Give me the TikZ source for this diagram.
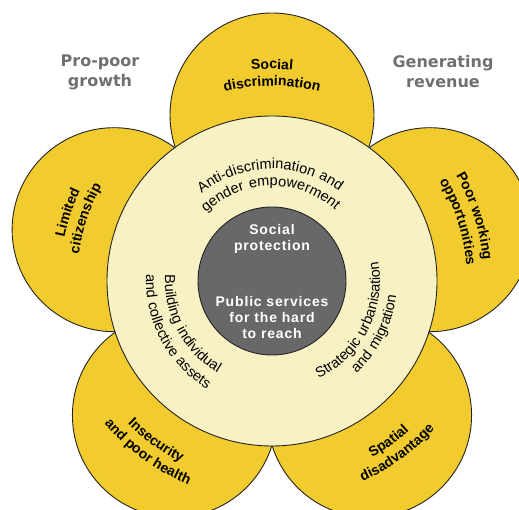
\documentclass[tikz,border=0pt]{standalone}
\usepackage{fontspec}
\setmainfont{Liberation Sans}
\newfontfamily\headfont{DejaVu Sans}
\newfontfamily\ringfont[LetterSpace=8]{Liberation Sans}
\newfontfamily\corefont[LetterSpace=6]{Liberation Sans}
\usetikzlibrary{decorations.text,calc}
\definecolor{petal}{RGB}{242,204,46}
\definecolor{ringc}{RGB}{248,241,196}
\definecolor{core}{RGB}{104,104,107}
\definecolor{headgray}{RGB}{112,112,114}
\definecolor{outline}{RGB}{35,35,35}
\tikzset{
  disc/.style={circle, inner sep=0pt, draw=outline, line width=0.9pt},
  petalc/.style={disc, fill=petal, minimum size=204pt},
  headtext/.style={align=center, text=headgray, font=\headfont\bfseries\fontsize{16}{20}\selectfont},
  coretext/.style={align=center, text=white, font=\corefont\bfseries\fontsize{14}{16}\selectfont},
}
\newcommand{\cwtext}[4]{% center angle, radius, font, text  (clockwise, tops outward)
  \path[decorate, decoration={text along path, text align=center, text={|#3|#4}}]
    (C) ++({#1+60}:#2pt) arc[start angle={#1+60}, end angle={#1-60}, radius=#2pt];}
\newcommand{\ccwtext}[4]{% counterclockwise, tops inward
  \path[decorate, decoration={text along path, text align=center, text={|#3|#4}}]
    (C) ++({#1-60}:#2pt) arc[start angle={#1-60}, end angle={#1+60}, radius=#2pt];}
\begin{document}
\begin{tikzpicture}[x=1pt,y=1pt]
\useasboundingbox (0,0) rectangle (519,510);
\clip (0,0) rectangle (519,510);
\coordinate (C) at (272,229);
% petals
\node[petalc] (ptop) at ($(C)+(90:166pt)$) {};
\node[petalc] (pleft) at ($(C)+(162:166pt)$) {};
\node[petalc] (pbl) at ($(C)+(234:166pt)$) {};
\node[petalc] (pbr) at ($(C)+(306:166pt)$) {};
\node[petalc] (pright) at ($(C)+(18:166pt)$) {};
% ring and core
\node[disc, fill=ringc, minimum size=330pt] (ring) at (C) {};
\node[disc, fill=core, minimum size=148pt] (core) at (C) {};
% headings
\node[headtext] (h1) at (100,438) {Pro-poor\\growth};
\node[headtext] (h2) at (443,438) {Generating\\revenue};
% core text
\node[coretext] (c1) at (272,271.5) {Social\\protection};
\node[coretext] (c2) at (272,192) {Public services\\for the hard\\to reach};
% ring text
\def\rf{\ringfont\fontsize{14.5}{16}\selectfont}
\cwtext{91}{112}{\rf}{Anti-discrimination and}
\cwtext{91}{95}{\rf}{gender empowerment}
\ccwtext{208}{107}{\rf}{Building individual}
\ccwtext{208}{126}{\rf}{and collective assets}
\ccwtext{333}{108}{\rf}{Strategic urbanisation}
\ccwtext{333}{125}{\rf}{and migration}
% petal text
\def\pf{\bfseries\fontsize{14}{16}\selectfont}
\cwtext{90}{212}{\pf}{Social}
\cwtext{90}{195}{\pf}{discrimination}
\cwtext{161.5}{212}{\pf}{Limited}
\cwtext{161.5}{195}{\pf}{citizenship}
\cwtext{17.7}{212}{\pf}{Poor working}
\cwtext{17.7}{195}{\pf}{opportunities}
\ccwtext{234}{203}{\pf}{Insecurity}
\ccwtext{234}{220}{\pf}{and poor health}
\ccwtext{306}{203}{\pf}{Spatial}
\ccwtext{306}{220}{\pf}{disadvantage}
\end{tikzpicture}
\end{document}
